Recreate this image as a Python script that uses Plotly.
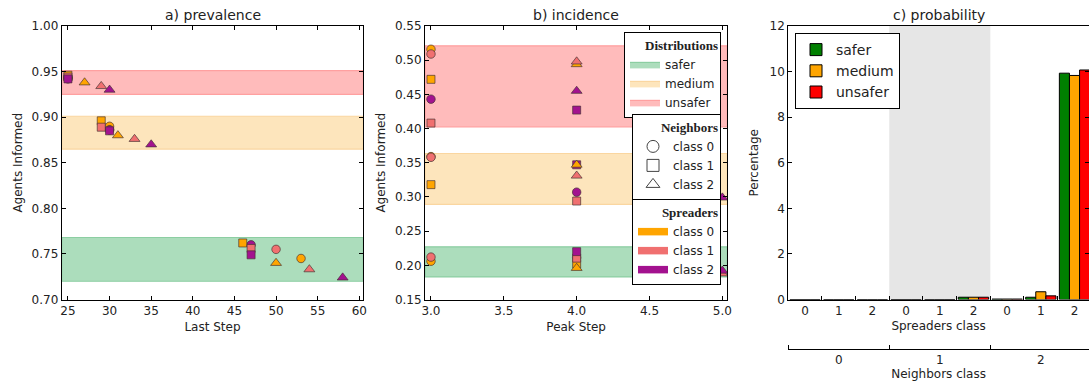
import plotly.graph_objects as go

# ---------------- data ----------------
distributions = ["safer", "medium", "unsafer"]
spreader_classes = ["class 0", "class 1", "class 2"]
neighbor_classes = ["class 0", "class 1", "class 2"]

# panel a) prevalence : band limits per distribution
prev_band_low = [0.720, 0.865, 0.925]
prev_band_high = [0.768, 0.901, 0.951]
# points ordered (neighbors, spreaders): n0s0, n0s1, n0s2, n1s0, ..., n2s2
prev_step_safer = [53, 50, 47, 46, 47, 47, 50, 54, 58]
prev_val_safer = [0.745, 0.755, 0.760, 0.762, 0.756, 0.749, 0.740, 0.733, 0.724]
prev_step_medium = [30, 30, 30, 29, 29, 30, 31, 33, 35]
prev_val_medium = [0.890, 0.886, 0.886, 0.896, 0.889, 0.885, 0.880, 0.876, 0.870]
prev_step_unsafer = [25, 25, 25, 25, 25, 25, 27, 29, 30]
prev_val_unsafer = [0.944, 0.943, 0.942, 0.946, 0.944, 0.942, 0.938, 0.934, 0.930]

# panel b) incidence
inc_band_low = [0.183, 0.289, 0.4025]
inc_band_high = [0.227, 0.3635, 0.521]
inc_step_safer = [3, 3, 4, 4, 4, 4, 4, 5, 5]
inc_val_safer = [0.206, 0.212, 0.211, 0.202, 0.2105, 0.220, 0.196, 0.188, 0.192]
inc_step_medium = [3, 3, 4, 3, 4, 4, 4, 4, 5]
inc_val_medium = [0.359, 0.358, 0.307, 0.318, 0.294, 0.347, 0.347, 0.331, 0.299]
inc_step_unsafer = [3, 3, 3, 3, 3, 4, 4, 4, 4]
inc_val_unsafer = [0.516, 0.509, 0.443, 0.472, 0.408, 0.427, 0.494, 0.498, 0.455]

# panel c) probability (percentage), ordered (neighbors, spreaders)
prob_neighbor_labels = ["0", "1", "2"]
prob_spreader_labels = ["0", "1", "2"]
prob_safer = [0, 0, 0, 0, 0, 0.10, 0.02, 0.10, 9.93]
prob_medium = [0, 0, 0, 0, 0, 0.10, 0.02, 0.34, 9.83]
prob_unsafer = [0, 0, 0, 0, 0, 0.10, 0.02, 0.16, 10.07]

# ---------------- styles ----------------
W, H = 1089, 385
SPREAD_COLORS = ["#FFA500", "#F07070", "#A3128F"]
NEIGH_SYMBOLS = ["circle", "square", "triangle-up"]
NEIGH_SIZES = [8.5, 8, 9.5]
BAND_FILL = ["rgb(172,221,188)", "rgb(253,229,188)", "rgb(255,187,187)"]
BAND_LINE = ["rgb(140,206,162)", "rgb(250,214,160)", "rgb(255,160,160)"]
PROB_COLORS = ["#008000", "#FFA500", "#FF0000"]
FONT = "DejaVu Sans"

ylo = (H - 299.5) / H
yhi = (H - 26) / H
dom_a = [61.7 / W, 363.3 / W]
dom_b = [425 / W, 727.3 / W]
dom_c = [788.2 / W, 1.0]
range_a = [24.25, 60.48]
range_b = [2.959, 5.034]
range_c = [-0.5, 8.43]

fig = go.Figure()


def add_panel(xr, lows, highs, steps, vals, xa, ya, legend_bands):
    # bands
    for i, d in enumerate(distributions):
        fig.add_trace(go.Scatter(
            x=[xr[0], xr[1], xr[1], xr[0], xr[0]],
            y=[lows[i], lows[i], highs[i], highs[i], lows[i]],
            mode="lines", fill="toself", fillcolor=BAND_FILL[i],
            line=dict(color=BAND_LINE[i], width=1.2),
            name=d, showlegend=legend_bands, legend="legend",
            hoverinfo="skip", xaxis=xa, yaxis=ya))
    # markers: circles first, then squares, then triangles
    for n in range(3):
        for s in range(3):
            k = n * 3 + s
            fig.add_trace(go.Scatter(
                x=[steps[d][k] for d in range(3)],
                y=[vals[d][k] for d in range(3)],
                mode="markers",
                marker=dict(symbol=NEIGH_SYMBOLS[n], size=NEIGH_SIZES[n],
                            color=SPREAD_COLORS[s],
                            line=dict(color="rgba(70,50,50,0.85)", width=0.8)),
                showlegend=False, xaxis=xa, yaxis=ya))


add_panel(range_a, prev_band_low, prev_band_high,
          [prev_step_safer, prev_step_medium, prev_step_unsafer],
          [prev_val_safer, prev_val_medium, prev_val_unsafer], "x", "y", False)
add_panel(range_b, inc_band_low, inc_band_high,
          [inc_step_safer, inc_step_medium, inc_step_unsafer],
          [inc_val_safer, inc_val_medium, inc_val_unsafer], "x2", "y2", True)

# neighbors legend (marker shapes)
for n in range(3):
    fig.add_trace(go.Scatter(
        x=[None], y=[None], mode="markers", name=neighbor_classes[n],
        marker=dict(symbol=NEIGH_SYMBOLS[n] + "-open", size=12, color="#444",
                    line=dict(width=1)),
        legend="legend2", xaxis="x2", yaxis="y2"))
# spreaders legend (colour patches)
for s in range(3):
    fig.add_trace(go.Scatter(
        x=[None], y=[None], mode="lines", fill="toself", name=spreader_classes[s],
        fillcolor=SPREAD_COLORS[s], line=dict(color=SPREAD_COLORS[s], width=3),
        legend="legend3", xaxis="x2", yaxis="y2"))

# panel c bars
positions = [n * 3 + s for n in range(3) for s in range(3)]
for vals, name, col in zip([prob_safer, prob_medium, prob_unsafer], distributions, PROB_COLORS):
    fig.add_trace(go.Bar(
        x=positions, y=vals, name=name, marker=dict(color=col, line=dict(color="black", width=1)),
        legend="legend4", xaxis="x3", yaxis="y3"))
# dummy trace so that the neighbors-class axis is drawn
fig.add_trace(go.Scatter(x=[None], y=[None], showlegend=False, xaxis="x4", yaxis="y3"))

# grey band marking neighbors class 1
fig.add_shape(type="rect", xref="x3", yref="y3 domain",
              x0=1 * 3 - 0.5, x1=1 * 3 + 2.5, y0=0, y1=1,
              fillcolor="rgb(230,230,230)", line=dict(width=0), layer="below")

axis_common = dict(showline=True, linecolor="black", linewidth=1, mirror="ticks",
                   ticks="inside", ticklen=4, tickcolor="black", showgrid=False,
                   zeroline=False, tickfont=dict(size=12, color="#222"), automargin=False)

fig.update_layout(
    width=W, height=H, margin=dict(l=0, r=0, t=0, b=0, autoexpand=False),
    paper_bgcolor="white", plot_bgcolor="rgba(0,0,0,0)",
    font=dict(family=FONT, size=12, color="#222"),
    barmode="group", bargap=0.1, bargroupgap=0,
    xaxis=dict(domain=dom_a, range=range_a, tickvals=list(range(25, 61, 5)),
               title=dict(text="Last Step", font=dict(size=12), standoff=5), anchor="y", **axis_common),
    yaxis=dict(domain=[ylo, yhi], range=[0.70, 1.00], dtick=0.05, tickformat=".2f",
               title=dict(text="Agents Informed", font=dict(size=12), standoff=6), anchor="x", **axis_common),
    xaxis2=dict(domain=dom_b, range=range_b, dtick=0.5, tick0=3, tickformat=".1f",
                title=dict(text="Peak Step", font=dict(size=12), standoff=5), anchor="y2", **axis_common),
    yaxis2=dict(domain=[ylo, yhi], range=[0.15, 0.55], dtick=0.05, tickformat=".2f",
                title=dict(text="Agents Informed", font=dict(size=12), standoff=6), anchor="x2", **axis_common),
    xaxis3=dict(domain=dom_c, range=range_c, tickvals=positions,
                ticktext=[prob_spreader_labels[p % 3] for p in positions],
                showline=True, linecolor="black", linewidth=1, mirror=True, ticks="",
                minor=dict(tickvals=[p + 0.5 for p in positions[:-1]], ticks="inside",
                           ticklen=4, tickcolor="black"),
                showgrid=False, zeroline=False, tickfont=dict(size=12, color="#222"), automargin=False,
                title=dict(text="Spreaders class", font=dict(size=12), standoff=4), anchor="y3"),
    yaxis3=dict(domain=[ylo, yhi], range=[0, 12], dtick=2,
                title=dict(text="Percentage", font=dict(size=12), standoff=8), anchor="x3", **axis_common),
    xaxis4=dict(overlaying="x3", anchor="free", position=(H - 349) / H, range=range_c,
                tickvals=[n * 3 + 1 for n in range(3)], ticktext=prob_neighbor_labels,
                showline=True, linecolor="black", linewidth=1, ticks="",
                minor=dict(tickvals=[n * 3 - 0.5 for n in range(3)], ticks="inside",
                           ticklen=4, tickcolor="black"),
                showgrid=False, zeroline=False, tickfont=dict(size=12, color="#222"), automargin=False,
                title=dict(text="Neighbors class", font=dict(size=12), standoff=2)),
    legend=dict(x=721 / W, xanchor="right", y=1 - 32 / H, yanchor="top",
                bgcolor="white", bordercolor="black", borderwidth=1,
                font=dict(size=12), tracegroupgap=0,
                title=dict(text="<b>Distributions</b>", side="top right",
                           font=dict(family="Liberation Serif", size=13))),
    legend2=dict(x=721 / W, xanchor="right", y=1 - 114 / H, yanchor="top",
                 bgcolor="white", bordercolor="black", borderwidth=1,
                 font=dict(size=12), tracegroupgap=0,
                 title=dict(text="<b>Neighbors</b>", side="top right",
                            font=dict(family="Liberation Serif", size=13))),
    legend3=dict(x=721 / W, xanchor="right", y=1 - 199 / H, yanchor="top",
                 bgcolor="white", bordercolor="black", borderwidth=1,
                 font=dict(size=12), tracegroupgap=0,
                 title=dict(text="<b>Spreaders</b>", side="top right",
                            font=dict(family="Liberation Serif", size=13))),
    legend4=dict(x=795 / W, xanchor="left", y=1 - 33 / H, yanchor="top",
                 bgcolor="white", bordercolor="black", borderwidth=1,
                 font=dict(size=14), tracegroupgap=0),
)

titles = [("a) prevalence", (dom_a[0] + dom_a[1]) / 2),
          ("b) incidence", (dom_b[0] + dom_b[1]) / 2),
          ("c) probability", (788.2 + 1090.6) / 2 / W)]
for txt, xc in titles:
    fig.add_annotation(text=txt, x=xc, y=1 - 15 / H, xref="paper", yref="paper",
                       xanchor="center", yanchor="middle", showarrow=False,
                       font=dict(size=14, color="#222"))

fig.write_html("out.html", config={"displayModeBar": False},
               post_script="document.body.style.margin='0px';document.body.style.overflow='hidden';")
